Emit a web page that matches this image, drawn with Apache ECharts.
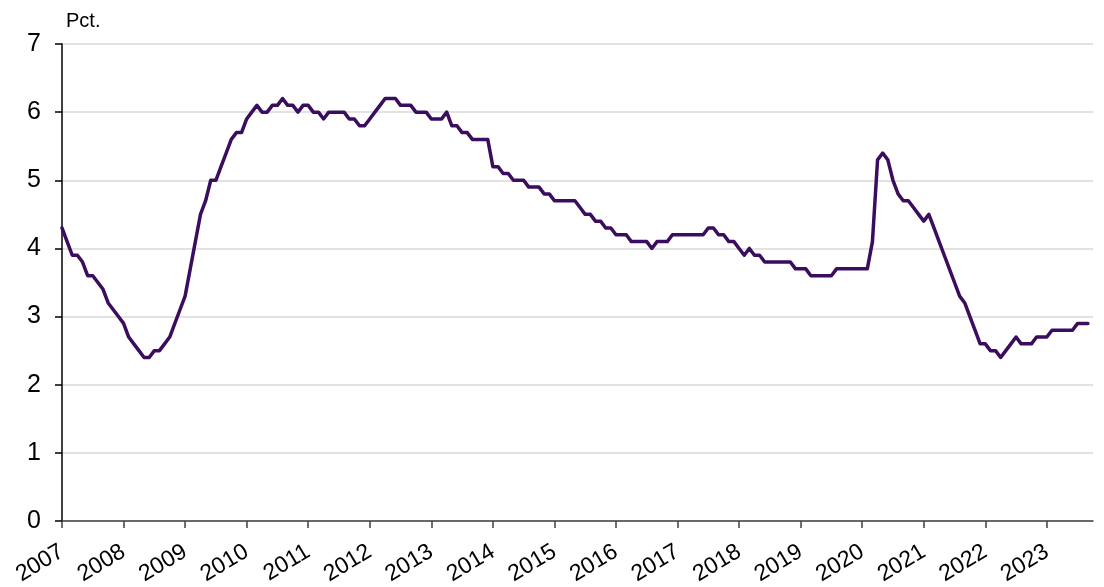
<!DOCTYPE html>
<html>
<head>
<meta charset="utf-8">
<script src="https://cdn.jsdelivr.net/npm/echarts@6/dist/echarts.min.js"></script>
<style>
html,body{margin:0;padding:0;background:#fff;}
#chart{width:1104px;height:587px;}
</style>
</head>
<body>
<div id="chart"></div>
<script>
// Year tick labels
const yearLabels = ['2007','2008','2009','2010','2011','2012','2013','2014','2015','2016','2017','2018','2019','2020','2021','2022','2023'];
// Monthly categories Jan 2007 .. Oct 2023 (axis extent)
const monthNames = ['01','02','03','04','05','06','07','08','09','10','11','12'];
const months = [];
yearLabels.forEach(y => monthNames.forEach(m => { if (!(y === '2023' && +m > 10)) months.push(y + '-' + m); }));

// Monthly values, pct.
const v2007 = [4.3,4.1,3.9,3.9,3.8,3.6,3.6,3.5,3.4,3.2,3.1,3.0];
const v2008 = [2.9,2.7,2.6,2.5,2.4,2.4,2.5,2.5,2.6,2.7,2.9,3.1];
const v2009 = [3.3,3.7,4.1,4.5,4.7,5.0,5.0,5.2,5.4,5.6,5.7,5.7];
const v2010 = [5.9,6.0,6.1,6.0,6.0,6.1,6.1,6.2,6.1,6.1,6.0,6.1];
const v2011 = [6.1,6.0,6.0,5.9,6.0,6.0,6.0,6.0,5.9,5.9,5.8,5.8];
const v2012 = [5.9,6.0,6.1,6.2,6.2,6.2,6.1,6.1,6.1,6.0,6.0,6.0];
const v2013 = [5.9,5.9,5.9,6.0,5.8,5.8,5.7,5.7,5.6,5.6,5.6,5.6];
const v2014 = [5.2,5.2,5.1,5.1,5.0,5.0,5.0,4.9,4.9,4.9,4.8,4.8];
const v2015 = [4.7,4.7,4.7,4.7,4.7,4.6,4.5,4.5,4.4,4.4,4.3,4.3];
const v2016 = [4.2,4.2,4.2,4.1,4.1,4.1,4.1,4.0,4.1,4.1,4.1,4.2];
const v2017 = [4.2,4.2,4.2,4.2,4.2,4.2,4.3,4.3,4.2,4.2,4.1,4.1];
const v2018 = [4.0,3.9,4.0,3.9,3.9,3.8,3.8,3.8,3.8,3.8,3.8,3.7];
const v2019 = [3.7,3.7,3.6,3.6,3.6,3.6,3.6,3.7,3.7,3.7,3.7,3.7];
const v2020 = [3.7,3.7,4.1,5.3,5.4,5.3,5.0,4.8,4.7,4.7,4.6,4.5];
const v2021 = [4.4,4.5,4.3,4.1,3.9,3.7,3.5,3.3,3.2,3.0,2.8,2.6];
const v2022 = [2.6,2.5,2.5,2.4,2.5,2.6,2.7,2.6,2.6,2.6,2.7,2.7];
const v2023 = [2.7,2.8,2.8,2.8,2.8,2.8,2.9,2.9,2.9];

const values = [].concat(v2007,v2008,v2009,v2010,v2011,v2012,v2013,v2014,v2015,v2016,v2017,v2018,v2019,v2020,v2021,v2022,v2023);

const FONT = 'Liberation Sans';
const chart = echarts.init(document.getElementById('chart'), null, {renderer:'canvas'});
chart.setOption({
  animation: false,
  backgroundColor: '#fff',
  grid: {left: 62, right: 11, top: 44, bottom: 66, containLabel: false, outerBoundsMode: 'none'},
  graphic: [{
    type: 'text', left: 66, top: 11,
    style: {text: 'Pct.', font: '20px ' + FONT, fill: '#000'}
  }],
  xAxis: {
    type: 'category',
    data: months,
    boundaryGap: false,
    axisLine: {show: true, lineStyle: {color: '#404040', width: 1.5}},
    axisTick: {show: true, length: 7, interval: (i) => i % 12 === 0, lineStyle: {color: '#404040', width: 1.5}},
    axisLabel: {
      interval: (i) => i % 12 === 0,
      formatter: (v, i) => yearLabels[Math.floor(i / 12)],
      rotate: 31, margin: 29, fontSize: 23, color: '#000', fontFamily: FONT
    },
    splitLine: {show: false}
  },
  yAxis: {
    type: 'value', min: 0, max: 7, interval: 1,
    axisLine: {show: true, lineStyle: {color: '#000', width: 1.5}},
    axisTick: {show: true, length: 7, lineStyle: {color: '#000', width: 1.5}},
    axisLabel: {margin: 21, fontSize: 25, color: '#000', fontFamily: FONT},
    splitLine: {show: true, lineStyle: {color: '#d9d9d9', width: 1.5}}
  },
  series: [{
    type: 'line',
    data: values,
    showSymbol: false,
    symbol: 'none',
    lineStyle: {color: '#3b0d5e', width: 3.5, cap: 'round', join: 'round'},
    z: 3
  }]
});
</script>
</body>
</html>
